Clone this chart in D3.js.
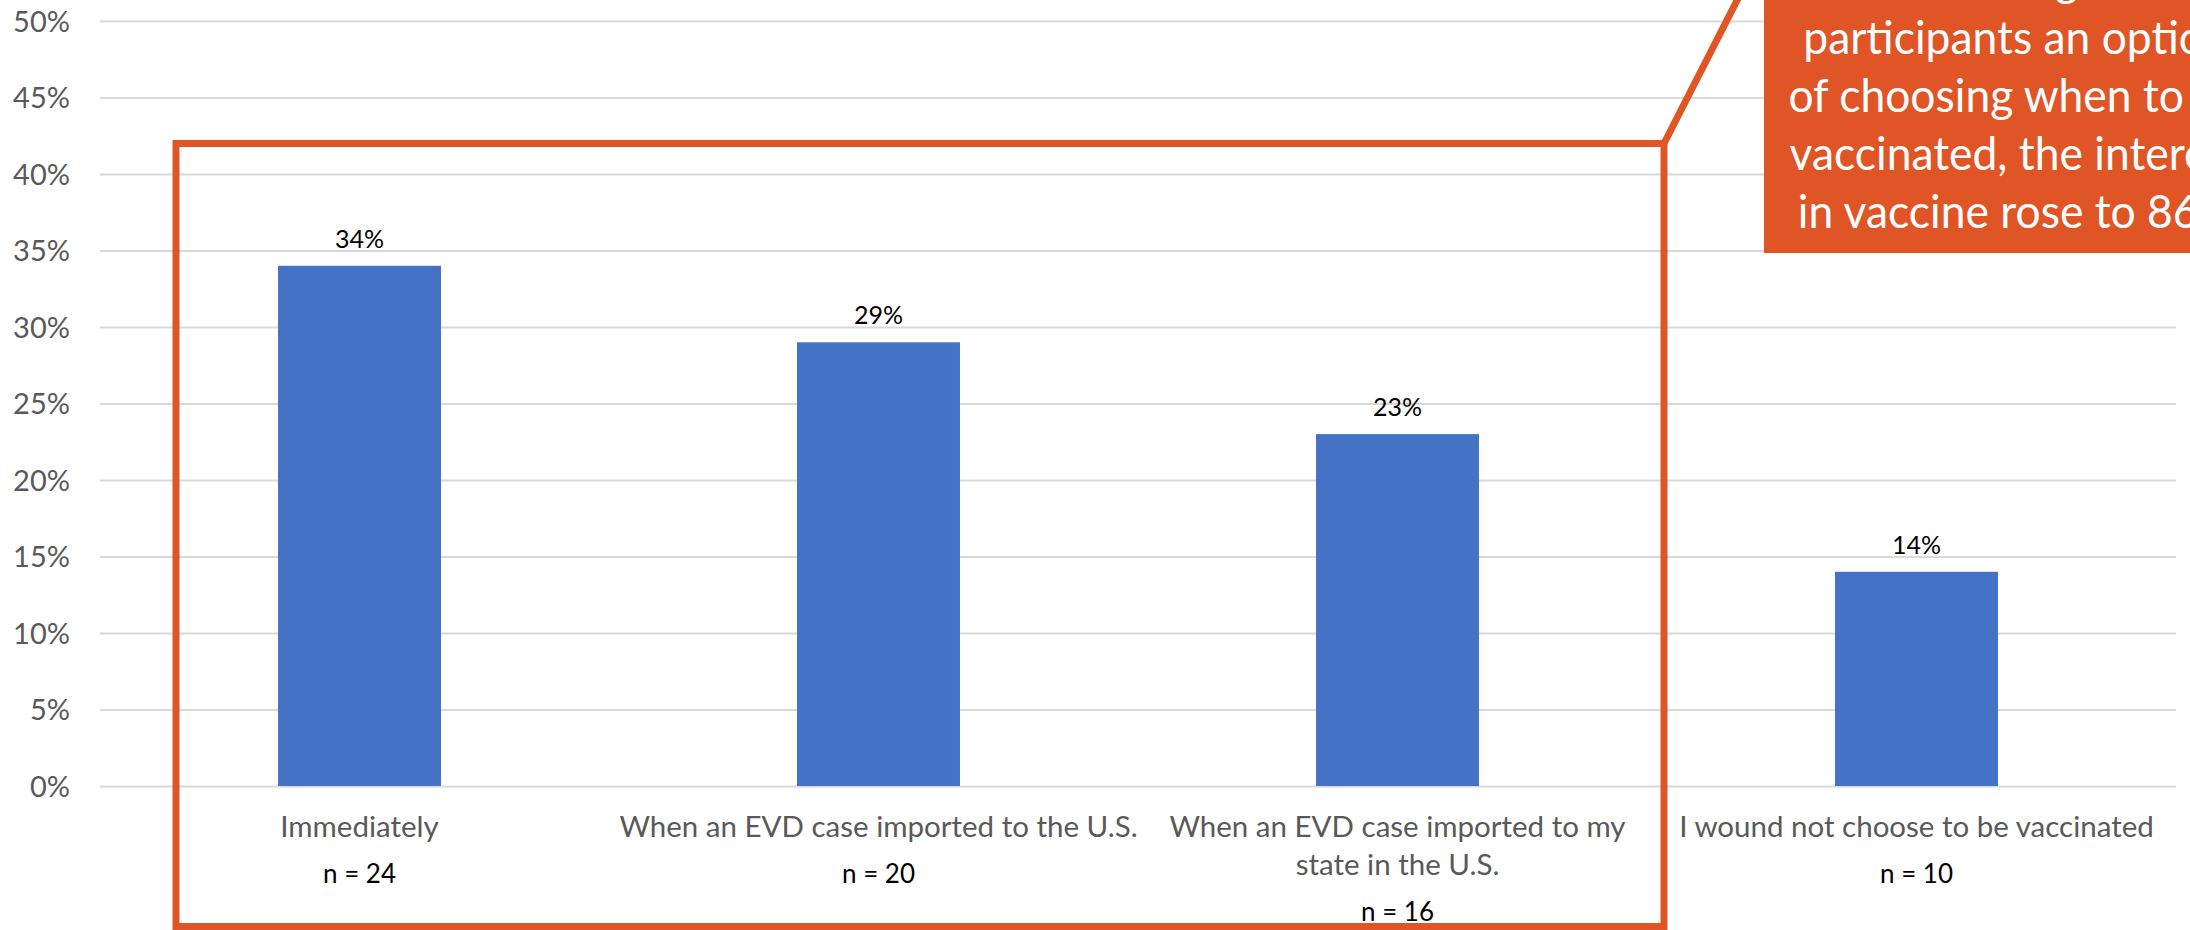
<!DOCTYPE html>
<html>
<head>
<meta charset="utf-8">
<script src="https://cdn.jsdelivr.net/npm/d3@7"></script>
<style>
  html, body { margin: 0; padding: 0; background: #ffffff; overflow: hidden; }
  svg { display: block; }
</style>
</head>
<body>
<svg id="chart" width="2190" height="930"></svg>
<script>
// Preferred timing for receiving an EVD vaccine
const categories = [
  "Immediately",
  "When an EVD case imported to the U.S.",
  "When an EVD case imported to my state in the U.S.",
  "I wound not choose to be vaccinated"
];
const values = [34, 29, 23, 14];          // percent of respondents
const counts = [24, 20, 16, 10];          // n per option
const tickValues = [0, 5, 10, 15, 20, 25, 30, 35, 40, 45, 50];
const calloutLines = [
  "Giving",
  "participants an option",
  "of choosing when to be",
  "vaccinated, the interest",
  "in vaccine rose to 86%"
];

const FONT = "Lato, 'Open Sans', sans-serif";
const ACCENT = "#E05526";

const svg = d3.select("#chart");
const plotLeft = 100, plotRight = 2176, plotTop = 21, plotBottom = 786;

const x = d3.scaleBand()
  .domain(categories)
  .range([plotLeft, plotRight])
  .paddingInner(0.686)
  .paddingOuter(0.343);

const y = d3.scaleLinear()
  .domain([0, 50])
  .range([plotBottom, plotTop]);

// Gridlines
svg.append("g")
  .attr("class", "grid")
  .attr("transform", `translate(${plotLeft},0)`)
  .call(d3.axisLeft(y).tickValues(tickValues).tickSize(-(plotRight - plotLeft)).tickFormat(""))
  .call(g => g.select(".domain").remove())
  .call(g => g.selectAll("line").attr("stroke", "#D9D9D9").attr("stroke-width", 2));

// Y axis labels
svg.append("g")
  .attr("transform", `translate(70,0)`)
  .call(d3.axisLeft(y).tickValues(tickValues).tickSize(0).tickPadding(0).tickFormat(d => d + "%"))
  .call(g => g.select(".domain").remove())
  .call(g => g.selectAll("text")
    .attr("fill", "#595959")
    .attr("font-family", FONT)
    .attr("font-size", 29)
    .attr("dy", "0.36em"));

// Bars
svg.append("g").selectAll("rect")
  .data(categories)
  .join("rect")
  .attr("x", d => x(d))
  .attr("width", x.bandwidth())
  .attr("y", (d, i) => y(values[i]))
  .attr("height", (d, i) => y(0) - y(values[i]))
  .attr("fill", "#4472C4");

// Value labels
svg.append("g").selectAll("text")
  .data(categories)
  .join("text")
  .attr("x", d => x(d) + x.bandwidth() / 2)
  .attr("y", (d, i) => y(values[i]) - 18)
  .attr("text-anchor", "middle")
  .attr("font-family", FONT)
  .attr("font-size", 25)
  .attr("fill", "#000000")
  .text((d, i) => values[i] + "%");

// Category labels (wrapped to band step) with sample sizes underneath
const CAT_SIZE = 29.5;
const measure = svg.append("text").attr("font-family", FONT).attr("font-size", CAT_SIZE).attr("visibility", "hidden");
function wrap(str, maxW) {
  const words = str.split(" ");
  const lines = [];
  let cur = "";
  for (const w of words) {
    const test = cur ? cur + " " + w : w;
    measure.text(test);
    if (measure.node().getComputedTextLength() > maxW && cur) {
      lines.push(cur);
      cur = w;
    } else cur = test;
  }
  if (cur) lines.push(cur);
  return lines;
}

const labelG = svg.append("g");
categories.forEach((c, i) => {
  const cx = x(c) + x.bandwidth() / 2;
  const lines = wrap(c, x.step());
  const t = labelG.append("text")
    .attr("text-anchor", "middle")
    .attr("font-family", FONT)
    .attr("font-size", CAT_SIZE)
    .attr("fill", "#595959");
  lines.forEach((ln, k) => {
    t.append("tspan").attr("x", cx).attr("y", 837 + k * 38).text(ln);
  });
  labelG.append("text")
    .attr("x", cx)
    .attr("y", 837 + (lines.length - 1) * 38 + 46)
    .attr("text-anchor", "middle")
    .attr("font-family", FONT)
    .attr("font-size", 26)
    .attr("fill", "#000000")
    .text("n = " + counts[i]);
});
measure.remove();

// Outline around the first three options, with leader line to the callout
const bx0 = 176, bx1 = 1664, by0 = 143.5, by1 = 926.5;
svg.append("rect")
  .attr("x", bx0).attr("y", by0)
  .attr("width", bx1 - bx0).attr("height", by1 - by0)
  .attr("fill", "none")
  .attr("stroke", ACCENT)
  .attr("stroke-width", 7);

svg.append("line")
  .attr("x1", bx1).attr("y1", by0)
  .attr("x2", bx1 + 73 * 1.5).attr("y2", by0 - 143 * 1.5)
  .attr("stroke", ACCENT)
  .attr("stroke-width", 7)
  .attr("stroke-linecap", "round");

// Callout
const cg = svg.append("g");
cg.append("rect")
  .attr("x", 1764).attr("y", -80)
  .attr("width", 520).attr("height", 333)
  .attr("fill", ACCENT);
const calloutX = 2016;
cg.append("text")
  .attr("transform", `translate(${calloutX},0) scale(0.955,1)`)
  .attr("text-anchor", "middle")
  .attr("font-family", FONT)
  .attr("font-size", 46.5)
  .attr("fill", "#ffffff")
  .selectAll("tspan")
  .data(calloutLines)
  .join("tspan")
  .attr("x", 0)
  .attr("y", (d, i) => -4 + i * 58)
  .text(d => d);
</script>
</body>
</html>
